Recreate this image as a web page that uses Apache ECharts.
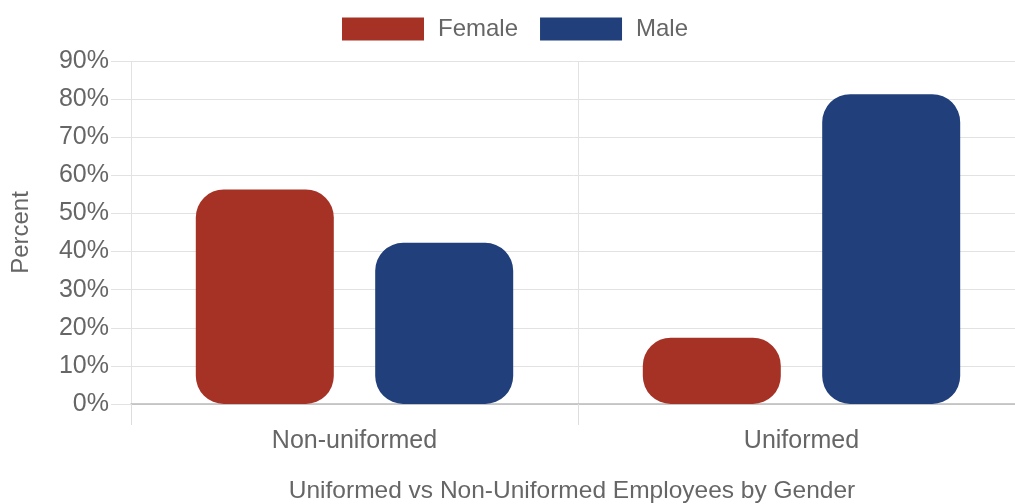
<!DOCTYPE html>
<html>
<head>
<meta charset="utf-8">
<script src="https://cdn.jsdelivr.net/npm/echarts@6/dist/echarts.min.js"></script>
<style>html,body{margin:0;padding:0;background:#fff;overflow:hidden}#c{width:1015px;height:504px}</style>
</head>
<body>
<div id="c"></div>
<script>
const categories = ['Non-uniformed', 'Uniformed'];
const female = [56.3, 17.4];
const male = [42.3, 81.3];
const seriesNames = ['Female', 'Male'];

const FONT = '"Liberation Sans", Arial, Helvetica, sans-serif';
const chart = echarts.init(document.getElementById('c'));
chart.setOption({
  animation: false,
  textStyle: { fontFamily: FONT },
  legend: {
    top: 12, left: 337,
    itemWidth: 82, itemHeight: 23, itemGap: 22,
    icon: 'rect',
    textStyle: { fontSize: 24, color: '#666', fontFamily: FONT, padding: [0, 0, 0, 9] },
    data: seriesNames
  },
  grid: { left: 131, width: 894, top: 61, bottom: 100, outerBoundsMode: 'none', containLabel: false },
  xAxis: {
    type: 'category',
    data: categories,
    axisLine: { lineStyle: { color: '#bbb', width: 1.5 } },
    axisTick: { show: true, length: 21, interval: 0, lineStyle: { color: '#ddd' } },
    splitLine: { show: true, interval: 0, lineStyle: { color: '#e2e2e2' } },
    axisLabel: { fontSize: 25, color: '#666', margin: 25, fontFamily: FONT },
    name: 'Uniformed vs Non-Uniformed Employees by Gender',
    nameLocation: 'middle',
    nameGap: 75,
    nameTextStyle: { fontSize: 24.5, color: '#666', fontFamily: FONT, padding: [0, 12, 0, 0] }
  },
  yAxis: {
    type: 'value',
    min: 0, max: 90, interval: 10,
    axisLine: { show: false },
    axisTick: { show: true, length: 20, lineStyle: { color: '#e2e2e2' } },
    splitLine: { lineStyle: { color: '#e2e2e2' } },
    axisLabel: { formatter: '{value}%', fontSize: 25, color: '#666', margin: 22, fontFamily: FONT },
    name: 'Percent',
    nameLocation: 'middle',
    nameRotate: 90,
    nameGap: 98,
    nameTextStyle: { fontSize: 24, color: '#666', fontFamily: FONT }
  },
  series: [
    { name: seriesNames[0], type: 'bar', data: female, barWidth: 138, barGap: '30%',
      itemStyle: { color: '#A63226', borderRadius: 28 } },
    { name: seriesNames[1], type: 'bar', data: male, barWidth: 138,
      itemStyle: { color: '#213F7B', borderRadius: 28 } }
  ]
});
</script>
</body>
</html>
